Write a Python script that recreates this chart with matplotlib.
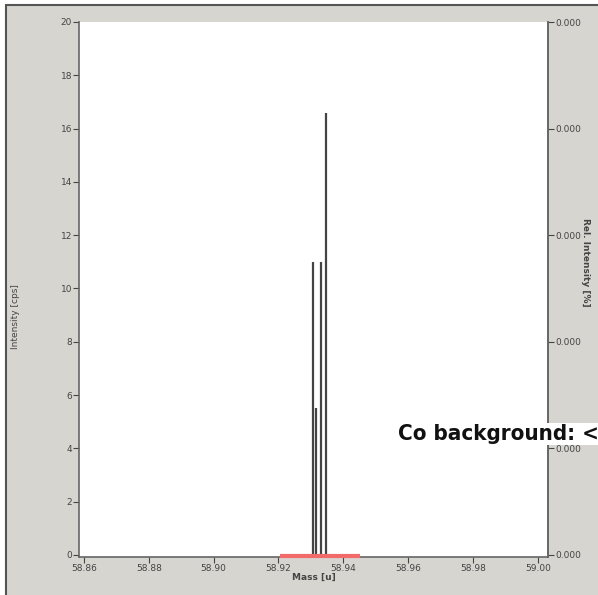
import matplotlib.pyplot as plt
from matplotlib.patches import Rectangle

# peak data
mass = [58.9306, 58.9315, 58.9330, 58.9348]
intensity = [11.0, 5.5, 11.0, 16.6]
window = [58.9204, 58.9451]  # red integration window
xticks = [58.86, 58.88, 58.90, 58.92, 58.94, 58.96, 58.98, 59.00]
yticks = [0, 2, 4, 6, 8, 10, 12, 14, 16, 18, 20]
rel_ticks = [0, 20, 40, 60, 80, 100]

fig = plt.figure(figsize=(5.98, 5.95), dpi=100)
fig.patch.set_facecolor('white')
# grey panel with dark edge
fig.patches.append(Rectangle((6/598, -0.05), 1.1, 1 - 5/595 + 0.05, transform=fig.transFigure,
                             facecolor='#d7d5d0', edgecolor='#555555', linewidth=1.5, zorder=-10))

ax = fig.add_axes([79/598, 1 - 557/595, (548 - 79)/598, (557 - 22)/595])
ax.set_facecolor('white')
ax.vlines(mass, 0, intensity, color='#444444', linewidth=1.6)
ax.plot(window, [-0.05, -0.05], color='#f26a6a', linewidth=3, solid_capstyle='butt', clip_on=False, zorder=5)

ax.set_xlim(58.8585, 59.0031)
ax.set_ylim(-0.08, 20)
ax.set_xticks(xticks)
ax.set_xticklabels([f'{t:.2f}' for t in xticks])
ax.set_yticks(yticks)
ax.tick_params(labelsize=6.5, colors='#444444', length=4, width=0.8, pad=1)
for s in ax.spines.values():
    s.set_color('#666666')
    s.set_linewidth(1.2)
ax.spines['top'].set_visible(False)
ax.set_xlabel('Mass [u]', fontsize=6.5, color='#444444', labelpad=0, fontweight='bold')
ax.set_ylabel('Intensity [cps]', fontsize=6.5, color='#444444')
ax.yaxis.set_label_coords(-0.125, 0.45)

ax2 = ax.twinx()
ax2.set_ylim(-0.4, 100)
ax2.set_yticks(rel_ticks)
ax2.set_yticklabels(['0.000'] * len(rel_ticks))
ax2.tick_params(labelsize=6.5, colors='#444444', length=4, width=0.8, pad=1)
for s in ax2.spines.values():
    s.set_visible(False)
ax2.spines['right'].set_visible(True)
ax2.spines['right'].set_color('#666666')
ax2.spines['right'].set_linewidth(1.2)
ax2.set_ylabel('Rel. Intensity [%]', fontsize=6.5, color='#444444', rotation=270, fontweight='bold')
ax2.yaxis.set_label_coords(1.09, 0.55)

fig.text(398/598, 1 - 440/595, 'Co background: <', fontsize=16, fontweight='bold',
         family=['DejaVu Sans Condensed', 'Liberation Sans Narrow', 'DejaVu Sans'],
         fontstretch='condensed', color='#111111',
         bbox=dict(facecolor='white', edgecolor='none', pad=1))

fig.savefig('out.png', dpi=100)
